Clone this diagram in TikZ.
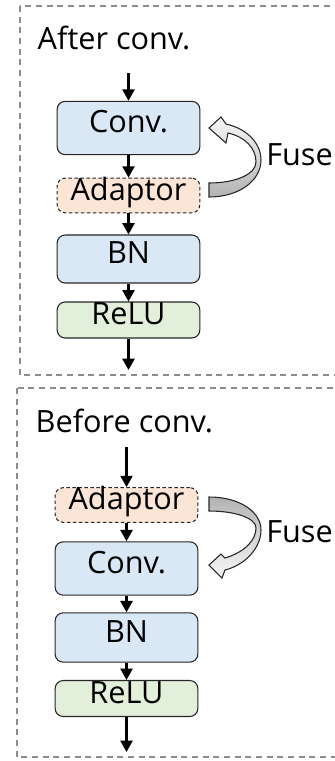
\documentclass[tikz,border=0pt]{standalone}
\usepackage{fontspec}
\setmainfont{Open Sans}
\usetikzlibrary{arrows.meta}

\definecolor{convblue}{HTML}{DAE8F5}
\definecolor{relugreen}{HTML}{E2EFDA}
\definecolor{adaptpeach}{HTML}{FBE5D6}
\definecolor{framegray}{HTML}{8C8C8C}

\begin{document}
\begin{tikzpicture}[x=0.75pt,y=-0.75pt,
		font=\fontsize{23}{27}\selectfont,
		block/.style={draw=black!85,line width=0.8pt,rounded corners=6pt,minimum width=107pt,inner sep=0pt,text height=0.72em,text depth=0pt},
		convbox/.style={block,fill=convblue},
		relubox/.style={block,fill=relugreen,minimum height=27pt},
		adaptbox/.style={block,fill=adaptpeach,dash pattern=on 2.6pt off 1.9pt,minimum height=26pt},
		flow/.style={draw=black,line width=1.7pt,-{Triangle[length=8.5pt,width=9pt]}},
		frame/.style={draw=framegray,line width=0.9pt,dash pattern=on 4.6pt off 3.4pt},
		fusearrow/.style={draw=black!85,line width=0.8pt},
		fuselabel/.style={anchor=base west,inner sep=0pt}]

		\useasboundingbox (0,0) rectangle (335,761);

		% Dashed frames
		\draw[frame] (20,6) rectangle (350,375);
		\draw[frame] (17,388) rectangle (350,757);

		% After conv.
		\node[anchor=base west] (title1) at (33,49) {After conv.};
		\coordinate (in1) at (128.5,73);
		\node[convbox,minimum height=40pt] (conv1) at (128.5,128) {Conv.};
		\node[adaptbox] (adapt1) at (128.5,195.5) {Adaptor};
		\node[convbox,minimum height=36pt] (bn1) at (128.5,259) {BN};
		\node[relubox] (relu1) at (128.5,320) {ReLU};
		\coordinate (out1) at (128.5,370);

		\draw[flow] (in1) -- (conv1);
		\draw[flow] (conv1) -- (adapt1);
		\draw[flow] (adapt1) -- (bn1);
		\draw[flow] (bn1) -- (relu1);
		\draw[flow] (relu1) -- (out1);

		% Fuse arrow, adaptor back into conv
		\draw[fusearrow,top color=gray!6,middle color=gray!18,bottom color=gray!60]
			(209,128) -- (221,117) -- (226,124)
			.. controls (248,129) and (261,144) .. (261,160)
			.. controls (261,180) and (240,197) .. (209,197)
			-- (209,183)
			.. controls (236,183) and (256,174) .. (256,162)
			.. controls (256,148) and (245,137) .. (228,133)
			-- (226,143) -- cycle;
		\node[fuselabel] (fuse1) at (266,165) {Fuse};

		% Before conv.
		\node[anchor=base west] (title2) at (31,432) {Before conv.};
		\coordinate (in2) at (126.5,447);
		\node[adaptbox] (adapt2) at (126.5,505) {Adaptor};
		\node[convbox,minimum height=40pt] (conv2) at (126.5,568.5) {Conv.};
		\node[convbox,minimum height=37pt] (bn2) at (126.5,637.5) {BN};
		\node[relubox] (relu2) at (126.5,698.5) {ReLU};
		\coordinate (out2) at (126.5,752);

		\draw[flow] (in2) -- (adapt2);
		\draw[flow] (adapt2) -- (conv2);
		\draw[flow] (conv2) -- (bn2);
		\draw[flow] (bn2) -- (relu2);
		\draw[flow] (relu2) -- (out2);

		% Fuse arrow, adaptor into conv
		\draw[fusearrow,top color=gray!60,middle color=gray!18,bottom color=gray!6]
			(209,565) -- (221,554) -- (225,558)
			.. controls (245,552) and (256,540) .. (256,528)
			.. controls (256,518) and (235,511) .. (209,511)
			-- (209,497)
			.. controls (240,497) and (261,512) .. (261,530)
			.. controls (261,548) and (245,565) .. (225,570)
			-- (222,578) -- cycle;
		\node[fuselabel] (fuse2) at (266,542) {Fuse};

	\end{tikzpicture}
\end{document}
